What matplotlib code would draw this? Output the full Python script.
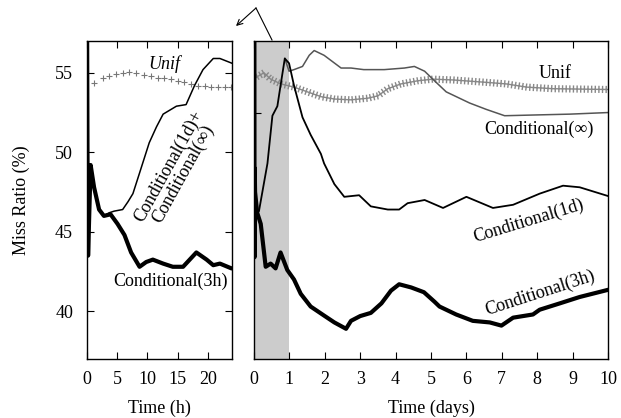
import matplotlib
matplotlib.use('Agg')
import matplotlib.pyplot as plt
import matplotlib.patheffects as pe
from matplotlib.lines import Line2D

plt.rcParams['font.family'] = ['Liberation Serif', 'DejaVu Serif']

# ---- left panel: first day, in hours ----
h_3h = [0, 0.08, 0.18, 0.6, 1.17, 2.0, 2.8, 3.9, 5.05, 6.2, 7.3, 8.7, 9.8, 10.9,
        12.6, 14.2, 15.9, 17.0, 18.1, 19.8, 20.9, 22.0, 23.9, 24]
v_3h = [60, 50, 43.5, 49.2, 47.8, 46.4, 46.0, 46.1, 45.5, 44.8, 43.7, 42.8, 43.1, 43.25,
        43.0, 42.8, 42.8, 43.25, 43.7, 43.25, 42.9, 43.0, 42.7, 42.7]

h_1dinf = [0, 0.08, 0.18, 0.6, 1.17, 2.0, 2.8, 3.7, 4.5, 5.9, 6.8, 7.6, 8.7, 10.3,
           11.5, 12.6, 14.8, 16.4, 17.8, 19.2, 20.9, 22.0, 24]
v_1dinf = [60, 50, 43.5, 49.2, 47.8, 46.4, 46.0, 46.2, 46.3, 46.4, 46.9, 47.4, 48.7, 50.6,
           51.6, 52.4, 52.9, 53.0, 54.2, 55.2, 55.9, 55.9, 55.6]

h_unif = [1.2, 2.6, 3.7, 4.8, 5.9, 7.0, 8.1, 9.5, 10.6, 11.7, 12.8, 13.9, 15.0, 16.1,
          17.2, 18.4, 19.5, 20.6, 21.7, 22.8, 23.9]
v_unif = [54.35, 54.7, 54.8, 54.9, 55.0, 55.05, 55.0, 54.85, 54.8, 54.7, 54.65, 54.6, 54.5, 54.4,
          54.3, 54.2, 54.2, 54.1, 54.1, 54.1, 54.1]

# ---- right panel: ten days ----
d_3h = [0.01, 0.015, 0.02, 0.03, 0.09, 0.19, 0.33, 0.47, 0.61, 0.75, 0.94, 1.13, 1.32, 1.6,
        2.0, 2.27, 2.6, 2.74, 3.0, 3.3, 3.6, 3.87, 4.1, 4.44, 4.8, 5.1, 5.24, 5.71,
        6.18, 6.66, 6.99, 7.32, 7.88, 8.07, 8.64, 9.2, 10.0]
r_3h = [60, 43.4, 49.0, 47.5, 46.2, 45.5, 42.8, 43.0, 42.7, 43.7, 42.6, 42.0, 41.1, 40.3,
        39.7, 39.3, 38.9, 39.4, 39.7, 39.9, 40.5, 41.3, 41.7, 41.5, 41.2, 40.6, 40.3, 39.8,
        39.4, 39.3, 39.1, 39.6, 39.8, 40.1, 40.5, 40.9, 41.35]

d_1d = [0.01, 0.015, 0.02, 0.03, 0.09, 0.14, 0.38, 0.52, 0.66, 0.75, 0.87, 0.99, 1.13, 1.37,
        1.6, 1.89, 1.98, 2.27, 2.55, 2.97, 3.3, 3.78, 4.1, 4.34, 4.82, 5.34, 6.0, 6.75,
        7.32, 8.07, 8.73, 9.2, 10.0]
r_1d = [60, 43.4, 49.0, 47.5, 46.2, 46.3, 49.3, 52.3, 52.9, 54.2, 55.9, 55.6, 54.2, 52.2,
        51.1, 49.9, 49.3, 48.0, 47.2, 47.3, 46.6, 46.4, 46.4, 46.8, 47.0, 46.5, 47.2, 46.5,
        46.7, 47.4, 47.9, 47.8, 47.25]

d_inf = [0.87, 0.99, 1.13, 1.37, 1.56, 1.7, 1.98, 2.46, 2.74, 3.1, 3.68, 4.25, 4.53, 4.82,
         5.05, 5.43, 6.09, 6.56, 7.08, 7.98, 8.92, 10.0]
r_inf = [55.9, 55.1, 55.2, 55.4, 56.1, 56.4, 56.1, 55.3, 55.3, 55.2, 55.2, 55.3, 55.4, 55.1,
         54.6, 53.8, 53.1, 52.7, 52.3, 52.35, 52.4, 52.5]

d_unif = [0.05, 0.28, 0.47, 0.76, 1.13, 1.51, 1.89, 2.27, 2.74, 3.21, 3.5, 3.78, 4.15, 4.63,
          5.05, 5.62, 6.56, 7.13, 7.7, 8.45, 10.0]
r_unif = [54.7, 55.0, 54.6, 54.3, 54.1, 53.8, 53.5, 53.35, 53.3, 53.4, 53.55, 54.0, 54.3, 54.5,
          54.6, 54.55, 54.4, 54.3, 54.1, 54.0, 53.95]

W, H = 621, 418
fig = plt.figure(figsize=(W / 100, H / 100), dpi=100)
ax1 = fig.add_axes([87 / W, (H - 359) / H, 145 / W, 318 / H])
ax2 = fig.add_axes([254 / W, (H - 359) / H, 354 / W, 318 / H])


def label(x, y, s, **kw):
    # x, y in pixels measured from the top-left corner
    fig.text(x / W, (H - y) / H, s, fontsize=13, ha='center', va='center', **kw)


for ax in (ax1, ax2):
    ax.set_ylim(37, 57)
    ax.tick_params(direction='in', length=5, width=0.8, labelsize=13, top=True)
    ax.tick_params(axis='x', pad=9)
    ax.tick_params(axis='y', pad=10)
    for s in ax.spines.values():
        s.set_linewidth(1.0)

# left
ax1.plot(h_unif, v_unif, linestyle='none', marker='+', ms=5, mew=0.8, color='#777777')
ax1.plot(h_1dinf, v_1dinf, color='black', lw=1.1)
ax1.plot(h_3h, v_3h, color='black', lw=3.0)
ax1.set_xlim(0, 24)
ax1.set_xticks([0, 5, 10, 15, 20])
ax1.set_yticks([40, 45, 50, 55])
ax1.tick_params(right=True)
ax1.set_xlabel('Time (h)', fontsize=13, labelpad=8)
ax1.set_ylabel('Miss Ratio (%)', fontsize=13, labelpad=18)
label(164, 64, 'Unif', style='italic')
label(171, 281, 'Conditional(3h)')
label(176, 170, 'Conditional(1d)+\nConditional(\u221e)', rotation=61,
      linespacing=0.95, multialignment='center')

# right
ax2.axvspan(0, 1, color='#cccccc', lw=0, zorder=0)
ax2.plot(d_unif, r_unif, color='#888888', lw=1.0,
         path_effects=[pe.withTickedStroke(angle=90, spacing=2.6, length=0.8),
                       pe.TickedStroke(angle=-90, spacing=2.6, length=0.8)])
ax2.plot(d_inf, r_inf, color='#555555', lw=1.1)
ax2.plot(d_1d, r_1d, color='black', lw=1.3)
ax2.plot(d_3h, r_3h, color='black', lw=3.0)
ax2.set_xlim(0, 10)
ax2.set_xticks(range(0, 11))
ax2.set_yticks([52.5])
ax2.set_yticklabels([])
ax2.set_xlabel('Time (days)', fontsize=13, labelpad=8)
label(555, 73, 'Unif')
label(539, 129, 'Conditional(\u221e)')
label(529, 221, 'Conditional(1d)', rotation=17)
label(540, 293, 'Conditional(3h)', rotation=18)

# zoom arrow from the shaded first day to the left panel
fig.add_artist(Line2D([272 / W, 256 / W], [(H - 40) / H, (H - 8) / H],
                      transform=fig.transFigure, color='black', lw=0.8))
ax1.annotate('', xy=(236, H - 26), xytext=(256, H - 8), xycoords='figure pixels',
             textcoords='figure pixels', annotation_clip=False,
             arrowprops=dict(arrowstyle='->', lw=0.8, color='black', shrinkA=0, shrinkB=0))

plt.savefig('out.png', dpi=100)
